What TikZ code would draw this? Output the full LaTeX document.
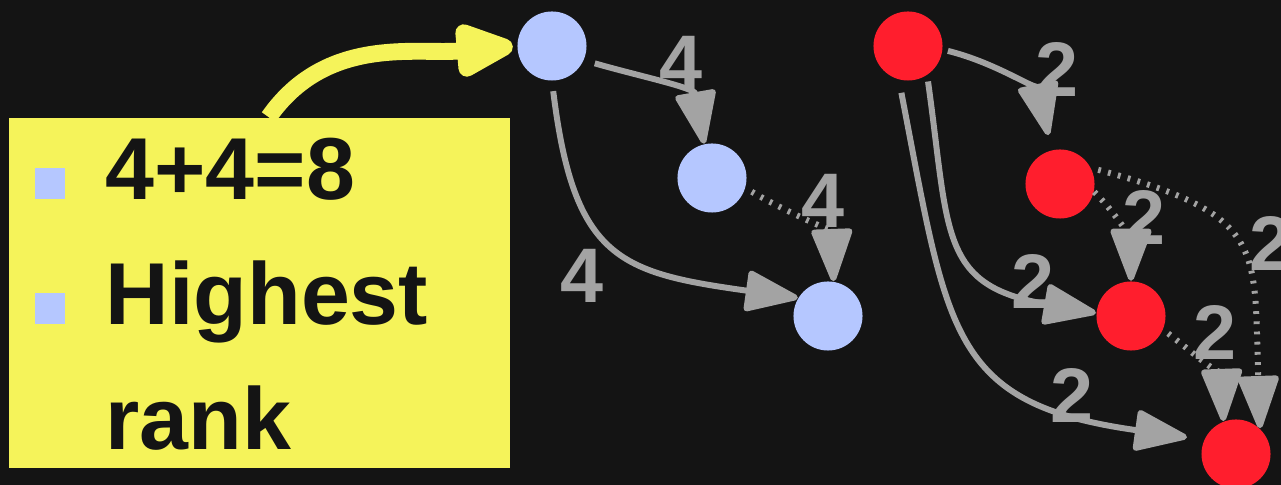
\documentclass[tikz,border=0pt]{standalone}
\usepackage{fontspec}
\setmainfont{Liberation Sans}
\usetikzlibrary{arrows.meta}

\definecolor{bg}{RGB}{20,20,20}
\definecolor{rankblue}{RGB}{181,199,255}
\definecolor{rankred}{RGB}{255,30,45}
\definecolor{edgegray}{RGB}{163,163,163}
\definecolor{noteyellow}{RGB}{245,243,90}

\tikzset{
  vertex/.style={circle, minimum size=0.69cm, inner sep=0pt},
  edge/.style={draw=edgegray, line width=1.7pt, -{Triangle[length=16.5pt,width=12pt,round]}},
  hop/.style={edge, dash pattern=on 0.8pt off 2.1pt},
  weight/.style={text=edgegray, font=\fontsize{22}{26}\selectfont\bfseries, inner sep=0pt},
  notetext/.style={text=bg, font=\fontsize{25}{30}\selectfont\bfseries, inner sep=0pt, anchor=base west},
}

\begin{document}
\begin{tikzpicture}[x=0.01cm, y=0.01cm]
  % Background
  \useasboundingbox (0,0) rectangle (1281,485);
  \fill[bg] (0,0) rectangle (1281,485);

  % Blue graph
  \node[vertex, fill=rankblue] (b1) at (552,439) {};
  \node[vertex, fill=rankblue] (b2) at (712,307) {};
  \node[vertex, fill=rankblue] (b3) at (828,169) {};

  \draw[edge, shorten <=0.11cm] (b1.-24) to[out=-16, in=100] (b2.103);
  \draw[edge, shorten <=0.1cm] (b1.-90) to[out=-83, in=172, looseness=1.4] (b3.149);
  \draw[hop, shorten <=0.07cm] (b2.-17) to[out=-30, in=92] (b3.81);

  \node[weight] (wb12) at (681,422) {4};
  \node[weight] (wb23) at (823,284) {4};
  \node[weight] (wb13) at (582,209) {4};

  % Red graph
  \node[vertex, fill=rankred] (r1) at (908,439) {};
  \node[vertex, fill=rankred] (r2) at (1060,301) {};
  \node[vertex, fill=rankred] (r3) at (1131,169) {};
  \node[vertex, fill=rankred] (r4) at (1236,31) {};

  \draw[edge, shorten <=0.05cm, shorten >=0.15cm] (r1.-6) to[out=-14, in=102] (r2.104);
  \draw[edge, shorten <=0.06cm] (r1.-57) to[out=-82, in=170, looseness=1.4] (r3.175);
  \draw[edge, shorten <=0.13cm, shorten >=0.17cm] (r1.-105) to[out=-79, in=172, looseness=1.4] (r4.156);
  \draw[hop] (r2.-13) to[out=-45, in=90] (r3.90);
  \draw[hop, shorten <=0.07cm] (r2.27) to[out=-15, in=92, looseness=1.5] (r4.47);
  \draw[hop, shorten <=0.06cm] (r3.-23) to[out=-38, in=92] (r4.111);

  \node[weight] (wr12) at (1057,416) {2};
  \node[weight] (wr23) at (1144,268) {2};
  \node[weight] (wr24) at (1271,242) {2};
  \node[weight] (wr13) at (1033,204) {2};
  \node[weight] (wr34) at (1215,153) {2};
  \node[weight] (wr14) at (1072,90) {2};

  % Note box
  \node[fill=noteyellow, minimum width=5.01cm, minimum height=3.5cm, inner sep=0pt] (note) at (259.5,192) {};
  \fill[rankblue] (35,286) rectangle ++(30,31);
  \fill[rankblue] (35,161) rectangle ++(30,31);
  \node[notetext] (line1) at (105,285) {4+4=8};
  \node[notetext] (line2) at (105,160) {Highest};
  \node[notetext] (line3) at (105,35) {rank};

  \draw[noteyellow, line width=4.8pt, shorten >=0.04cm, -{Triangle[length=20pt,width=16pt,round]}]
    (note.87) to[out=55, in=185] (b1.180);
\end{tikzpicture}
\end{document}
